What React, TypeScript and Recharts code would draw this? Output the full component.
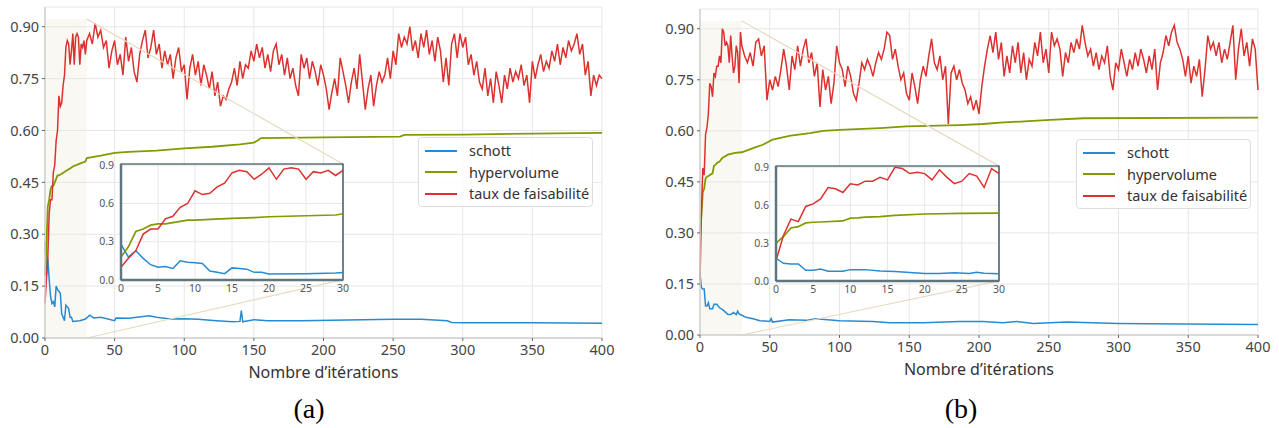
import {
  LineChart,
  Line,
  XAxis,
  YAxis,
  CartesianGrid,
  ReferenceArea,
  ReferenceLine,
} from "recharts";

const BLUE = "#268bd2";
const GREEN = "#859900";
const RED = "#dc322f";

const mainTicksX = [0, 50, 100, 150, 200, 250, 300, 350, 400];
const mainTicksY = [0, 0.15, 0.3, 0.45, 0.6, 0.75, 0.9];
const insetTicksX = [0, 5, 10, 15, 20, 25, 30];
const insetTicksY = [0, 0.3, 0.6, 0.9];

// (a) schott
const schottItersA = [
  0, 1, 2, 3, 4, 5, 6, 7, 8, 9, 10, 11, 12, 13, 14, 15, 16, 17, 18, 19, 20,
  25, 29, 30, 32, 35, 40, 50, 51, 60, 75, 80, 90, 100, 110, 123, 135, 140, 141,
  142, 143, 150, 160, 184, 250, 270, 289, 292, 300, 350, 400,
];
const schottA = [
  0.28, 0.18, 0.23, 0.17, 0.12, 0.1, 0.105, 0.09, 0.15, 0.14, 0.135, 0.13, 0.07,
  0.06, 0.05, 0.095, 0.09, 0.085, 0.06, 0.06, 0.048, 0.05, 0.055, 0.058, 0.066,
  0.058, 0.06, 0.05, 0.058, 0.057, 0.064, 0.06, 0.055, 0.056, 0.054, 0.05,
  0.047, 0.048, 0.079, 0.047, 0.048, 0.053, 0.05, 0.05, 0.054, 0.054, 0.05,
  0.045, 0.044, 0.044, 0.043,
];

// (a) hypervolume
const hvItersA = [
  0, 1, 2, 3, 4, 5, 6, 7, 8, 9, 10, 12, 15, 18, 20, 25, 29, 30, 40, 50, 60, 80,
  100, 120, 140, 150, 153, 155, 200, 255, 258, 300, 350, 400,
];
const hvA = [
  0.18, 0.26, 0.38, 0.4, 0.43, 0.44, 0.44, 0.45, 0.46, 0.47, 0.47, 0.475, 0.483,
  0.49, 0.496, 0.504, 0.51, 0.52, 0.527, 0.535, 0.538, 0.542, 0.548, 0.553,
  0.56, 0.565, 0.572, 0.578, 0.58, 0.582, 0.587, 0.588, 0.591, 0.593,
];

// (a) taux de faisabilité : iterations 0..30, then every 2 iterations 32..400
const faisEarlyA = [
  0.1, 0.17, 0.23, 0.36, 0.4, 0.4, 0.48, 0.5, 0.57, 0.6, 0.7, 0.67, 0.68, 0.73,
  0.76, 0.84, 0.86, 0.85, 0.79, 0.83, 0.88, 0.79, 0.87, 0.88, 0.87, 0.79, 0.85,
  0.84, 0.86, 0.82, 0.86,
];
const faisLateA = [
  0.88, 0.85, 0.91, 0.87, 0.89, 0.84, 0.86, 0.78, 0.83, 0.86,
  0.79, 0.82, 0.76, 0.87, 0.8, 0.84, 0.77, 0.74, 0.82, 0.86,
  0.89, 0.81, 0.84, 0.89, 0.82, 0.85, 0.78, 0.83, 0.79, 0.82,
  0.75, 0.81, 0.84, 0.77, 0.79, 0.69, 0.78, 0.82, 0.76, 0.8,
  0.73, 0.79, 0.76, 0.72, 0.77, 0.7, 0.74, 0.67, 0.7, 0.69,
  0.72, 0.74, 0.78, 0.73, 0.8, 0.75, 0.79, 0.78, 0.83, 0.8,
  0.85, 0.81, 0.84, 0.78, 0.82, 0.77, 0.83, 0.85, 0.79, 0.82,
  0.76, 0.81, 0.75, 0.78, 0.73, 0.7, 0.82, 0.78, 0.81, 0.75,
  0.8, 0.77, 0.73, 0.79, 0.76, 0.72, 0.66, 0.71, 0.75, 0.7,
  0.81, 0.77, 0.73, 0.68, 0.74, 0.78, 0.72, 0.82, 0.74, 0.66,
  0.72, 0.76, 0.67, 0.73, 0.77, 0.74, 0.76, 0.81, 0.75, 0.83,
  0.79, 0.88, 0.84, 0.87, 0.85, 0.9, 0.83, 0.86, 0.81, 0.88,
  0.84, 0.89, 0.82, 0.86, 0.8, 0.87, 0.83, 0.74, 0.81, 0.73,
  0.85, 0.88, 0.81, 0.88, 0.84, 0.87, 0.79, 0.82, 0.76, 0.8,
  0.74, 0.72, 0.78, 0.7, 0.75, 0.68, 0.77, 0.73, 0.68, 0.76,
  0.72, 0.78, 0.74, 0.77, 0.75, 0.79, 0.73, 0.76, 0.68, 0.8,
  0.75, 0.79, 0.82, 0.77, 0.8, 0.78, 0.83, 0.8, 0.85, 0.79,
  0.84, 0.81, 0.86, 0.83, 0.85, 0.88, 0.82, 0.85, 0.76, 0.8,
  0.7, 0.76, 0.73, 0.76, 0.75,
];

// (b) schott
const schottItersB = [
  0, 1, 2, 3, 4, 5, 6, 7, 8, 9, 10, 12, 14, 16, 18, 20, 22, 24, 26, 27, 28, 29,
  30, 33, 38, 43, 50, 51, 52, 64, 76, 83, 100, 124, 136, 160, 186, 203, 217,
  227, 239, 263, 299, 347, 400,
];
const schottB = [
  0.18, 0.14, 0.135, 0.135, 0.085, 0.085, 0.095, 0.077, 0.077, 0.077, 0.09,
  0.09, 0.08, 0.075, 0.068, 0.06, 0.06, 0.066, 0.06, 0.07, 0.062, 0.06, 0.058,
  0.052, 0.048, 0.042, 0.04, 0.048, 0.038, 0.045, 0.043, 0.048, 0.042, 0.04,
  0.036, 0.036, 0.04, 0.04, 0.036, 0.04, 0.034, 0.038, 0.034, 0.032, 0.031,
];

// (b) hypervolume
const hvItersB = [
  0, 1, 2, 3, 4, 5, 6, 9, 10, 11, 12, 14, 16, 20, 25, 30, 38, 45, 52, 65, 79,
  88, 100, 129, 148, 186, 203, 215, 251, 275, 400,
];
const hvB = [
  0.3, 0.35, 0.42, 0.43, 0.46, 0.465, 0.467, 0.475, 0.497, 0.5, 0.505, 0.51,
  0.52, 0.53, 0.535, 0.537, 0.549, 0.559, 0.574, 0.586, 0.593, 0.6, 0.603,
  0.608, 0.613, 0.617, 0.62, 0.624, 0.632, 0.637, 0.639,
];

// (b) taux de faisabilité
const faisEarlyB = [
  0.16, 0.36, 0.49, 0.47, 0.59, 0.61, 0.65, 0.74, 0.73, 0.7, 0.77, 0.76, 0.79,
  0.79, 0.82, 0.8, 0.9, 0.89, 0.85, 0.86, 0.85, 0.8, 0.88, 0.82, 0.77, 0.79,
  0.85, 0.83, 0.74, 0.89, 0.85,
];
const faisLateB = [
  0.82, 0.8, 0.83, 0.79, 0.86, 0.87, 0.82, 0.85, 0.69, 0.75,
  0.72, 0.76, 0.73, 0.78, 0.84, 0.79, 0.72, 0.82, 0.78, 0.85,
  0.79, 0.84, 0.87, 0.8, 0.83, 0.76, 0.8, 0.67, 0.78, 0.72,
  0.76, 0.68, 0.74, 0.85, 0.8, 0.78, 0.73, 0.79, 0.76, 0.71,
  0.69, 0.74, 0.8, 0.78, 0.81, 0.79, 0.76, 0.8, 0.83, 0.81,
  0.84, 0.89, 0.88, 0.81, 0.84, 0.79, 0.75, 0.77, 0.71, 0.69,
  0.77, 0.73, 0.68, 0.75, 0.79, 0.76, 0.82, 0.87, 0.8, 0.78,
  0.82, 0.75, 0.79, 0.62, 0.77, 0.79, 0.75, 0.78, 0.74, 0.72,
  0.68, 0.7, 0.66, 0.69, 0.65, 0.73, 0.79, 0.84, 0.88, 0.83,
  0.89, 0.81, 0.86, 0.76, 0.82, 0.77, 0.85, 0.8, 0.86, 0.77,
  0.83, 0.75, 0.81, 0.79, 0.86, 0.82, 0.89, 0.8, 0.84, 0.77,
  0.89, 0.85, 0.87, 0.84, 0.76, 0.83, 0.8, 0.86, 0.83, 0.87,
  0.84, 0.91, 0.86, 0.82, 0.84, 0.79, 0.83, 0.78, 0.82, 0.8,
  0.85, 0.76, 0.72, 0.8, 0.78, 0.84, 0.8, 0.76, 0.81, 0.78,
  0.83, 0.79, 0.84, 0.81, 0.77, 0.82, 0.78, 0.84, 0.72, 0.8,
  0.83, 0.88, 0.85, 0.89, 0.91, 0.86, 0.84, 0.81, 0.76, 0.82,
  0.74, 0.79, 0.76, 0.81, 0.7, 0.78, 0.88, 0.84, 0.86, 0.82,
  0.86, 0.8, 0.84, 0.81, 0.86, 0.91, 0.75, 0.84, 0.9, 0.82,
  0.86, 0.79, 0.87, 0.84, 0.72,
];

type Pt = { x: number; y: number };

const pairs = (xs: number[], ys: number[]): Pt[] =>
  xs.map((x, i) => ({ x, y: ys[i] }));

const faisPoints = (early: number[], late: number[]): Pt[] => [
  ...early.map((y, i) => ({ x: i, y })),
  ...late.map((y, i) => ({ x: 32 + 2 * i, y })),
];

const legendItems = [
  { name: "schott", color: BLUE },
  { name: "hypervolume", color: GREEN },
  { name: "taux de faisabilité", color: RED },
];

const tickStyle = { fill: "#444", fontSize: 14.5 };

type PanelProps = {
  left: number;
  width: number;
  margin: { top: number; right: number; bottom: number; left: number };
  yMax: number;
  schott: Pt[];
  hv: Pt[];
  fais: Pt[];
  zoomTop: number;
  insetCorners: { top: number; bottom: number; x: number };
  inset: { left: number; top: number; width: number; height: number };
  legend: { left: number; top: number };
  caption: { x: number; text: string };
};

const Panel = (p: PanelProps) => {
  const small = (d: Pt[]) => d.filter((pt) => pt.x <= 30);
  return (
    <>
      <div style={{ position: "absolute", left: p.left, top: 0 }}>
        <LineChart width={p.width} height={428} margin={p.margin}>
          <CartesianGrid stroke="#e6e6e6" />
          <ReferenceArea
            x1={0}
            x2={30}
            y1={0}
            y2={p.zoomTop}
            fill="#eee8d5"
            fillOpacity={0.3}
            stroke="none"
          />
          <XAxis
            type="number"
            dataKey="x"
            domain={[0, 400]}
            ticks={mainTicksX}
            height={40}
            tickSize={3}
            tickMargin={4}
            axisLine={{ stroke: "#d0d0d0", strokeWidth: 1.5 }}
            tickLine={{ stroke: "#666" }}
            tick={tickStyle}
            label={{
              value: "Nombre d’itérations",
              position: "insideBottom",
              offset: 0,
              fill: "#333",
              fontSize: 16,
            }}
          />
          <YAxis
            type="number"
            domain={[0, p.yMax]}
            ticks={mainTicksY}
            allowDataOverflow
            width={45}
            tickSize={3}
            tickMargin={3}
            tickFormatter={(v: number) => v.toFixed(2)}
            axisLine={{ stroke: "#d0d0d0", strokeWidth: 1.5 }}
            tickLine={{ stroke: "#666" }}
            tick={tickStyle}
          />
          <Line data={p.schott} dataKey="y" stroke={BLUE} strokeWidth={1.5} dot={false} isAnimationActive={false} />
          <Line data={p.hv} dataKey="y" stroke={GREEN} strokeWidth={1.8} dot={false} isAnimationActive={false} />
          <Line data={p.fais} dataKey="y" stroke={RED} strokeWidth={1.5} dot={false} isAnimationActive={false} />
          <ReferenceLine
            segment={[
              { x: 30, y: p.zoomTop },
              { x: p.insetCorners.x, y: p.insetCorners.top },
            ]}
            stroke="#e6dcc2"
            strokeWidth={1.2}
            ifOverflow="visible"
          />
          <ReferenceLine
            segment={[
              { x: 30, y: 0 },
              { x: p.insetCorners.x, y: p.insetCorners.bottom },
            ]}
            stroke="#e6dcc2"
            strokeWidth={1.2}
            ifOverflow="visible"
          />
        </LineChart>
      </div>

      <div style={{ position: "absolute", left: p.inset.left, top: p.inset.top }}>
        <LineChart
          width={p.inset.width}
          height={p.inset.height}
          margin={{ top: 6, right: 8, bottom: 0, left: 0 }}
        >
          <CartesianGrid fill="#ffffff" fillOpacity={1} stroke="#e8e8e8" />
          <XAxis
            type="number"
            dataKey="x"
            domain={[0, 30]}
            ticks={insetTicksX}
            height={18}
            tickSize={4}
            tickMargin={1}
            tickLine={false}
            axisLine={{ stroke: "#5f7580", strokeWidth: 2.5 }}
            tick={{ fill: "#555", fontSize: 10.5 }}
          />
          <YAxis
            type="number"
            domain={[0, 0.91]}
            ticks={insetTicksY}
            width={26}
            tickSize={5}
            tickMargin={2}
            tickLine={false}
            tickFormatter={(v: number) => v.toFixed(1)}
            axisLine={{ stroke: "#5f7580", strokeWidth: 2.5 }}
            tick={{ fill: "#555", fontSize: 10.5 }}
          />
          <Line data={small(p.schott)} dataKey="y" stroke={BLUE} strokeWidth={1.5} dot={false} isAnimationActive={false} />
          <Line data={small(p.hv)} dataKey="y" stroke={GREEN} strokeWidth={1.7} dot={false} isAnimationActive={false} />
          <Line data={small(p.fais)} dataKey="y" stroke={RED} strokeWidth={1.5} dot={false} isAnimationActive={false} />
          <ReferenceArea
            x1={0}
            x2={30}
            y1={0}
            y2={0.91}
            fill="none"
            stroke="#153844"
            strokeWidth={1.2}
          />
        </LineChart>
      </div>

      <div
        style={{
          position: "absolute",
          left: p.legend.left,
          top: p.legend.top,
          width: 175,
          height: 70,
          boxSizing: "border-box",
          border: "1px solid #dddddd",
          borderRadius: 4,
          background: "rgba(255,255,255,0.85)",
          padding: "2px 0 0 6px",
        }}
      >
        {legendItems.map((s) => (
          <div key={s.name} style={{ display: "flex", alignItems: "center", height: 21.5 }}>
            <span style={{ width: 32, height: 2, background: s.color, marginRight: 12 }} />
            <span style={{ fontSize: 14.5, color: "#333", lineHeight: "21.5px" }}>{s.name}</span>
          </div>
        ))}
      </div>

      <div
        style={{
          position: "absolute",
          left: p.caption.x - 40,
          top: 394,
          width: 80,
          textAlign: "center",
          fontFamily: "'Liberation Serif', serif",
          fontSize: 28,
          lineHeight: "30px",
          color: "#000",
        }}
      >
        {p.caption.text}
      </div>
    </>
  );
};

export default function App() {
  return (
    <div
      style={{
        position: "absolute",
        left: 0,
        top: 0,
        width: 1279,
        height: 428,
        background: "#fff",
        overflow: "hidden",
        fontFamily: "'Noto Sans', sans-serif",
      }}
    >
      <Panel
        left={0}
        width={640}
        margin={{ top: 7, right: 38, bottom: 50, left: 0 }}
        yMax={0.957}
        schott={pairs(schottItersA, schottA)}
        hv={pairs(hvItersA, hvA)}
        fais={faisPoints(faisEarlyA, faisLateA)}
        zoomTop={0.922}
        insetCorners={{ x: 214, top: 0.503, bottom: 0.169 }}
        inset={{ left: 95, top: 158, width: 256, height: 140 }}
        legend={{ left: 418, top: 137 }}
        caption={{ x: 309, text: "(a)" }}
      />
      <Panel
        left={640}
        width={639}
        margin={{ top: 9, right: 21, bottom: 53, left: 15 }}
        yMax={0.958}
        schott={pairs(schottItersB, schottB)}
        hv={pairs(hvItersB, hvB)}
        fais={faisPoints(faisEarlyB, faisLateB)}
        zoomTop={0.923}
        insetCorners={{ x: 214.3, top: 0.497, bottom: 0.159 }}
        inset={{ left: 750, top: 160, width: 257, height: 139 }}
        legend={{ left: 1076, top: 139 }}
        caption={{ x: 961, text: "(b)" }}
      />
    </div>
  );
}
